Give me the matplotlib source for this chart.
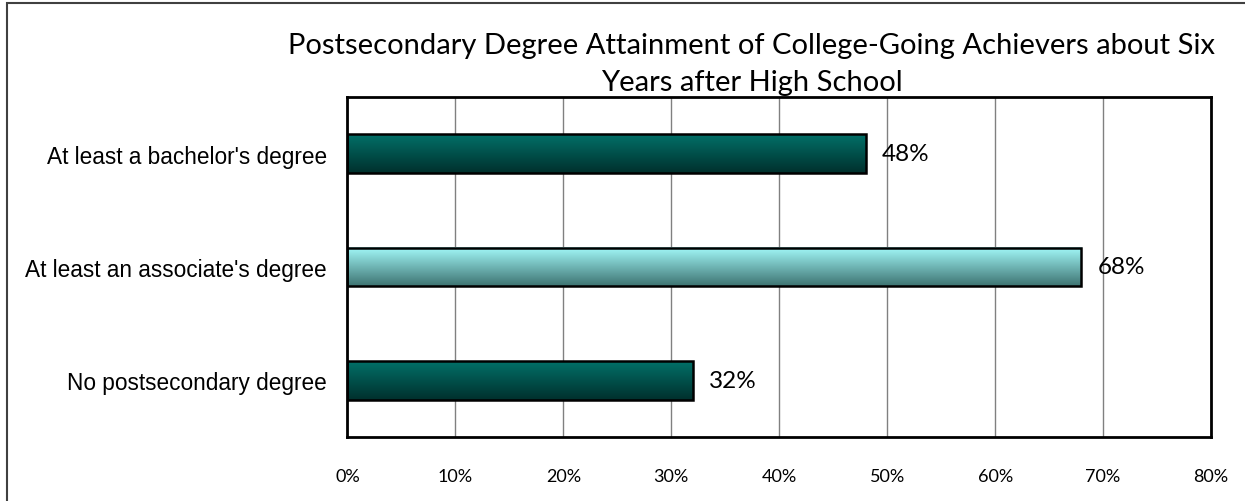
import numpy as np
import matplotlib.pyplot as plt
from matplotlib.colors import LinearSegmentedColormap
from matplotlib.patches import Rectangle

categories = ["At least a bachelor's degree", "At least an associate's degree", "No postsecondary degree"]
values = [48, 68, 32]
top_colors = ['#027068', '#a2f8f8', '#027068']
bottom_colors = ['#00302d', '#3e7472', '#00302d']
ticks = [0, 10, 20, 30, 40, 50, 60, 70, 80]
title = 'Postsecondary Degree Attainment of College-Going Achievers about Six\nYears after High School'

fig = plt.figure(figsize=(12.45, 5.02), dpi=100)
ax = fig.add_axes([0.2791, 0.1275, 0.6936, 0.6773])

# outer chart border (only left and top visible in the reference)
fig.patches.append(Rectangle((7 / 1245, -0.1), 1.2, 1.1 - 4 / 502, transform=fig.transFigure,
                             fill=False, edgecolor='#404040', linewidth=1.5))

h = 0.34
grad = np.linspace(0, 1, 100).reshape(-1, 1)
for i in range(len(values)):
    cmap = LinearSegmentedColormap.from_list('g%d' % i, [top_colors[i], bottom_colors[i]])
    ax.imshow(grad, cmap=cmap, aspect='auto', extent=[0, values[i], i + h / 2, i - h / 2],
              origin='upper', zorder=2)
    ax.barh(i, values[i], height=h, fill=False, edgecolor='black', linewidth=1.8, zorder=3)
    ax.text(values[i] + 1.5, i, '%d%%' % values[i], va='center', ha='left',
            fontsize=17.5, family='Lato', color='black', zorder=4)

ax.set_xlim(0, 80)
ax.set_ylim(2.5, -0.5)
ax.set_xticks(ticks)
ax.set_xticklabels(['%d%%' % t for t in ticks], family='Lato', fontsize=13)
ax.set_yticks(range(len(categories)))
ax.set_yticklabels(categories, family='Liberation Sans', fontsize=16.3)
ax.tick_params(axis='x', length=0, pad=22)
ax.tick_params(axis='y', length=0, pad=15)
ax.grid(axis='x', color='#808080', linewidth=1, zorder=0)
ax.set_axisbelow(True)
for s in ax.spines.values():
    s.set_linewidth(2)
    s.set_color('black')

fig.text(0.604, 0.872, title, ha='center', va='center', fontsize=21, family='Lato',
         linespacing=1.5)

plt.savefig('out.png', dpi=100)
